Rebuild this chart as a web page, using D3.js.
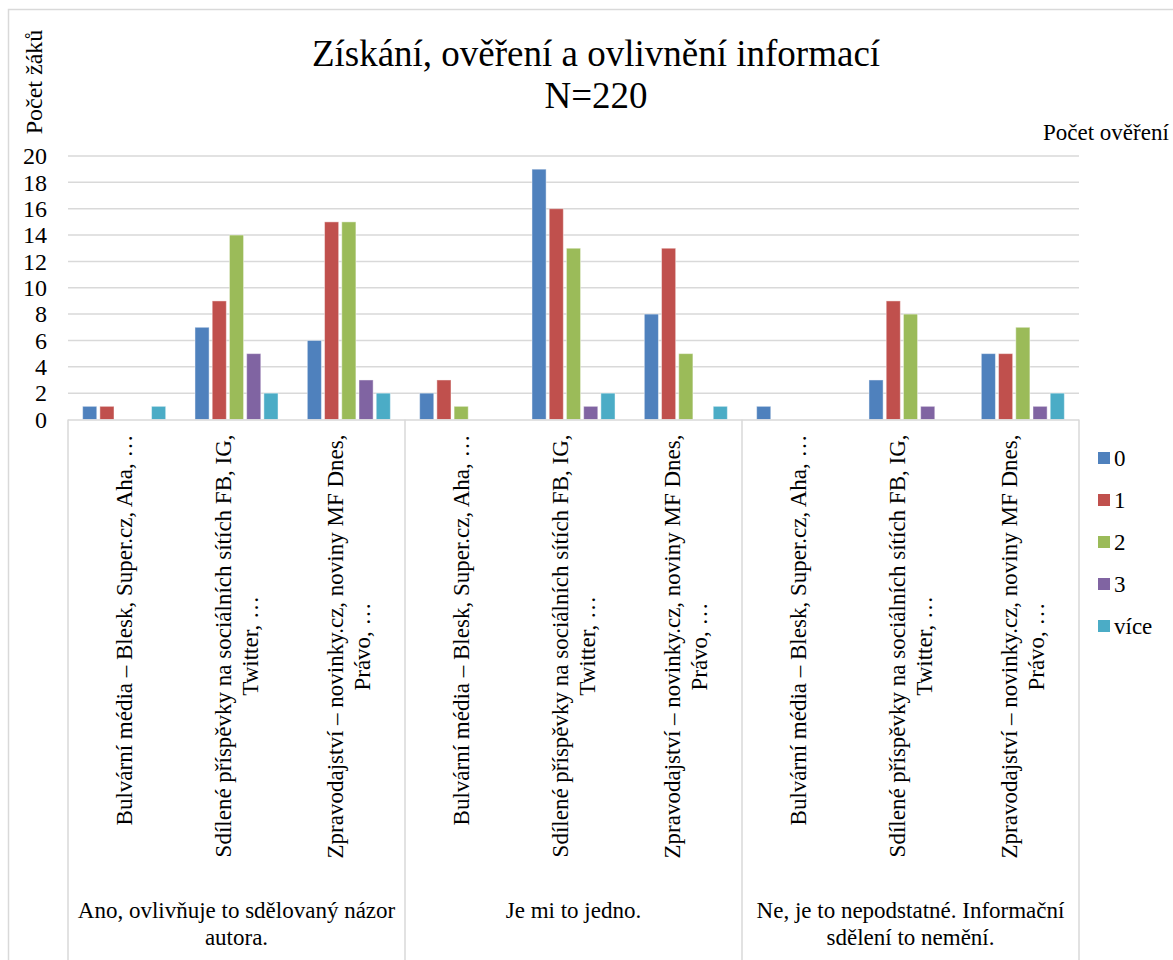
<!DOCTYPE html>
<html>
<head>
<meta charset="utf-8">
<script src="https://cdn.jsdelivr.net/npm/d3@7"></script>
<style>
  svg text { font-family: Tinos, "Liberation Serif", "Times New Roman", serif !important; }
</style>
</head>
<body style="margin:0">
<svg id="chart" width="1173" height="960"></svg>
<script>
// ---- data ----
const groups = [
  "Ano, ovlivňuje to sdělovaný názor autora.",
  "Je mi to jedno.",
  "Ne, je to nepodstatné. Informační sdělení to nemění."
];
const sources = [
  "Bulvární média – Blesk, Super.cz, Aha, …",
  "Sdílené příspěvky na sociálních sítích FB, IG, Twitter, …",
  "Zpravodajství – novinky.cz, noviny MF Dnes, Právo, …"
];
const seriesNames = ["0", "1", "2", "3", "více"];
const values0    = [1, 7, 6,   2, 19, 8,   1, 3, 5];
const values1    = [1, 9, 15,  3, 16, 13,  0, 9, 5];
const values2    = [0, 14, 15, 1, 13, 5,   0, 8, 7];
const values3    = [0, 5, 3,   0, 1, 0,    0, 1, 1];
const valuesMore = [1, 2, 2,   0, 2, 1,    0, 0, 2];
const yTicks = [0, 2, 4, 6, 8, 10, 12, 14, 16, 18, 20];
const titleLines = ["Získání, ověření a ovlivnění informací", "N=220"];
const yTitle = "Počet žáků";
const legendTitle = "Počet ověření";

const colors = ["#4F81BD", "#C0504D", "#9BBB59", "#8064A2", "#4BACC6"];
const seriesValues = [values0, values1, values2, values3, valuesMore];
const FONT = "Times New Roman";

const cats = [];
groups.forEach((g, gi) => sources.forEach((s, si) => cats.push({g, gi, s, si, idx: gi * sources.length + si})));

const svg = d3.select("#chart");
const plot = {left: 68, right: 1079, top: 156, bottom: 419.5};

function txt(sel, size) {
  return sel.append("text").attr("font-size", size).attr("font-family", FONT);
}

// chart border
svg.append("rect").attr("x", 8.5).attr("y", 9.5).attr("width", 1200).attr("height", 1000)
  .attr("fill", "none").attr("stroke", "#D9D9D9").attr("stroke-width", 1.5);

const y = d3.scaleLinear().domain([0, 20]).range([plot.bottom, plot.top]);
const x0 = d3.scaleBand().domain(cats.map(c => c.idx)).range([plot.left, plot.right]);
const xg = d3.scaleBand().domain(groups).range([plot.left, plot.right]);
const x1 = d3.scaleBand().domain(seriesNames).range([0, x0.bandwidth()]).paddingInner(0.18).paddingOuter(0.85);
const color = d3.scaleOrdinal().domain(seriesNames).range(colors);

// gridlines
svg.append("g").selectAll("line").data(yTicks.filter(t => t > 0)).join("line")
  .attr("x1", plot.left).attr("x2", plot.right)
  .attr("y1", d => y(d)).attr("y2", d => y(d))
  .attr("stroke", "#D9D9D9").attr("stroke-width", 1.5);

// y axis labels
const yAxis = d3.axisLeft(y).tickValues(yTicks).tickSize(0).tickPadding(21);
const yg = svg.append("g").attr("transform", `translate(${plot.left},0)`).call(yAxis);
yg.select(".domain").remove();
yg.attr("font-family", FONT).attr("font-size", 24);
yg.selectAll("text").attr("fill", "#000");

// bars
const barData = [];
cats.forEach(c => seriesNames.forEach((s, k) => barData.push({c, s, v: seriesValues[k][c.idx]})));
svg.append("g").selectAll("rect").data(barData.filter(d => d.v > 0)).join("rect")
  .attr("x", d => x0(d.c.idx) + x1(d.s))
  .attr("width", x1.bandwidth())
  .attr("y", d => y(d.v))
  .attr("height", d => y(0) - y(d.v))
  .attr("fill", d => color(d.s))
  .attr("stroke", "rgba(255,255,255,0.45)").attr("stroke-width", 1);

// x axis line
svg.append("line").attr("x1", plot.left).attr("x2", plot.right)
  .attr("y1", plot.bottom + 0.5).attr("y2", plot.bottom + 0.5)
  .attr("stroke", "#D9D9D9").attr("stroke-width", 1.5);
// group separators
const seps = groups.map(g => xg(g)).concat([plot.right]);
svg.append("g").selectAll("line").data(seps).join("line")
  .attr("x1", d => d).attr("x2", d => d)
  .attr("y1", plot.bottom).attr("y2", 960)
  .attr("stroke", "#D9D9D9").attr("stroke-width", 1.5);

// word wrapping helper
function wrapLines(text, maxW, fontSize) {
  const tmp = txt(svg, fontSize);
  const words = text.split(" ");
  const lines = [];
  let cur = "";
  words.forEach(w => {
    const test = cur ? cur + " " + w : w;
    tmp.text(test);
    if (tmp.node().getComputedTextLength() > maxW && cur) { lines.push(cur); cur = w; }
    else cur = test;
  });
  if (cur) lines.push(cur);
  const widths = lines.map(l => { tmp.text(l); return tmp.node().getComputedTextLength(); });
  tmp.remove();
  return {lines, widths};
}

// category labels (rotated)
const catFont = 23, catLH = 27;
cats.forEach(c => {
  const {lines, widths} = wrapLines(c.s, 445, catFont);
  const maxW = d3.max(widths);
  const cx = x0(c.idx) + x0.bandwidth() / 2;
  const g = svg.append("g").attr("transform", `translate(${cx},${plot.bottom}) rotate(-90)`);
  lines.forEach((l, i) => {
    txt(g, catFont).attr("x", -15 - maxW / 2).attr("y", (i - (lines.length - 1) / 2) * catLH + 8)
      .attr("text-anchor", "middle").text(l);
  });
});

// group labels
groups.forEach(gname => {
  const {lines} = wrapLines(gname, xg.bandwidth() - 4, 23);
  const cx = xg(gname) + xg.bandwidth() / 2;
  lines.forEach((l, i) => {
    txt(svg, 23).attr("x", cx).attr("y", 918 + i * 27).attr("text-anchor", "middle").text(l);
  });
});

// title
txt(svg, 37).attr("x", 596).attr("y", 66).attr("text-anchor", "middle").text(titleLines[0]);
txt(svg, 37).attr("x", 596).attr("y", 108).attr("text-anchor", "middle").text(titleLines[1]);

// y title
txt(svg, 24).attr("transform", "translate(42,82) rotate(-90)")
  .attr("text-anchor", "middle").text(yTitle);

// legend title
txt(svg, 23).attr("x", 1043).attr("y", 140).text(legendTitle);

// legend
const leg = svg.append("g").selectAll("g").data(seriesNames).join("g")
  .attr("transform", (d, i) => `translate(1098,${458 + i * 42})`);
leg.append("rect").attr("x", 0).attr("y", -6).attr("width", 12).attr("height", 12).attr("fill", d => color(d));
leg.each(function(d) { txt(d3.select(this), 23).attr("x", 16).attr("y", 8).text(d); });
</script>
</body>
</html>
